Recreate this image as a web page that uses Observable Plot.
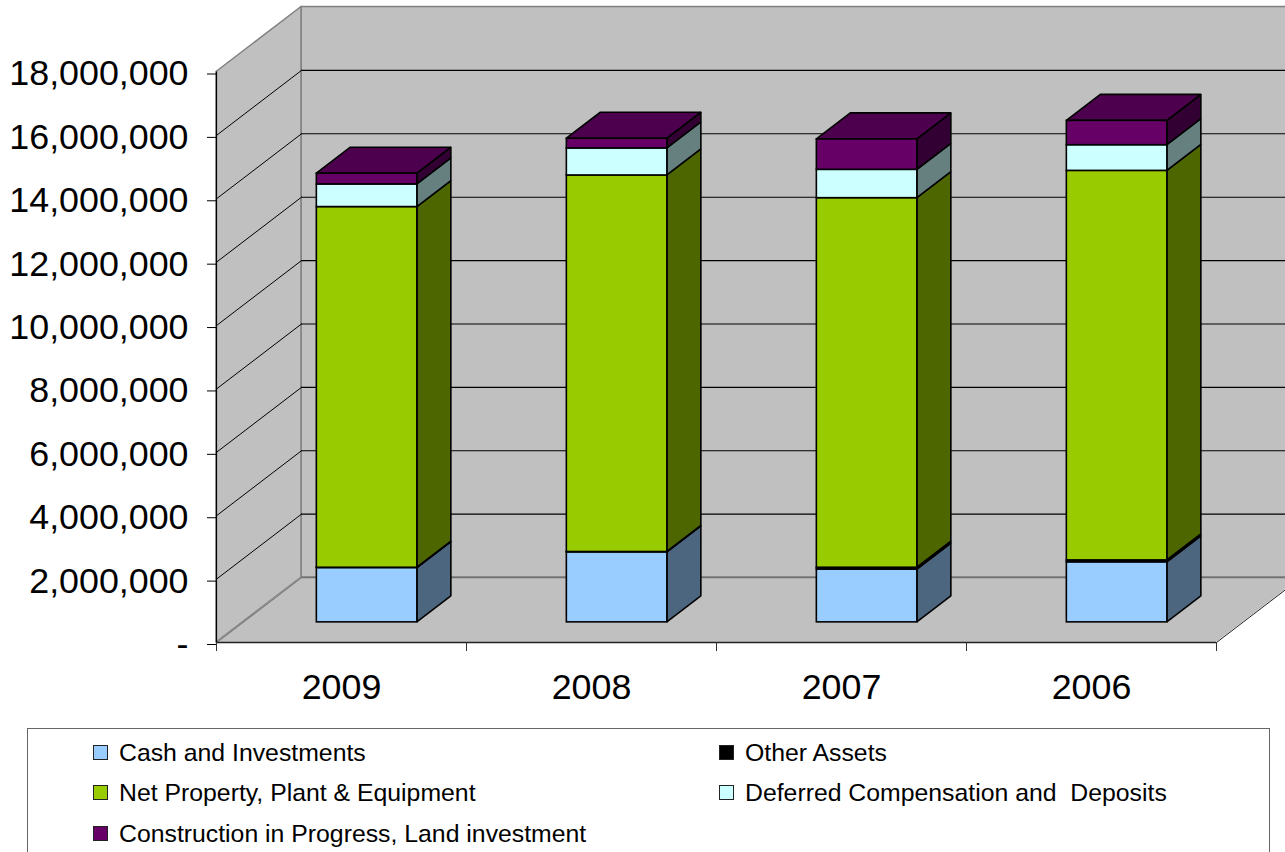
<!DOCTYPE html>
<html>
<head>
<meta charset="utf-8">
<script src="https://cdn.jsdelivr.net/npm/d3@7"></script>
<script src="https://cdn.jsdelivr.net/npm/@observablehq/plot@0.6"></script>
<style>
  html, body { margin: 0; padding: 0; background: #fff; width: 1285px; height: 852px; overflow: hidden; }
  svg { display: block; }
  #legend {
    position: absolute; left: 27px; top: 728px; width: 1243px; height: 124px;
    box-sizing: border-box; border: 1px solid #666; border-bottom: none;
    font-family: "Liberation Sans", Arial, sans-serif; color: #000;
    font-size: 24.8px; background: #fff;
  }
  .item { position: absolute; white-space: pre; line-height: 28px; height: 28px; }
  .swatch { position: absolute; left: -26px; top: 6px; width: 13px; height: 13px; border: 1.5px solid #222; }
</style>
</head>
<body>
<div id="chart"></div>
<div id="legend"></div>
<script>
const years = ["2009", "2008", "2007", "2006"];
const cash = [1715000, 2210000, 1664000, 1895000];
const otherAssets = [8000, 10000, 60000, 60000];
const netProperty = [11380000, 11880000, 11660000, 12290000];
const deferred = [714000, 853000, 894000, 810000];
const construction = [338000, 306000, 960000, 767000];
const seriesNames = ["Cash and Investments", "Other Assets", "Net Property, Plant & Equipment", "Deferred Compensation and  Deposits", "Construction in Progress, Land investment"];
const seriesValues = [cash, otherAssets, netProperty, deferred, construction];
const frontColors = ["#99CCFF", "#000000", "#99CC00", "#CCFFFF", "#660066"];
const sideColors = ["#4D6680", "#000000", "#4D6600", "#668080", "#330033"];
const topColor = "#4D004D";
const axisTicks = d3.range(0, 18000001, 2000000);
const xTicks = [0, 1, 2, 3, 4];

// Oblique projection of the depth axis into the data space of the two scales
const depthX = 0.34, depthY = 2050000;
const zFront = 0.31, zBack = 0.71;
const barStart = 0.296, barWidth = 0.402;
const px = (u, z) => u + z * depthX;
const py = (v, z) => v + z * depthY;

const fronts = [], sides = [], tops = [];
years.forEach((year, i) => {
  let base = 0;
  const left = i + barStart, right = left + barWidth;
  seriesValues.forEach((vals, s) => {
    const top = base + vals[i];
    fronts.push({x1: px(left, zFront), x2: px(right, zFront), y1: py(base, zFront), y2: py(top, zFront), fill: frontColors[s]});
    for (const z of [zFront, zBack]) {
      sides.push({key: `${year}-${s}`, x: px(right, z), y1: py(base, z), y2: py(top, z), fill: sideColors[s]});
    }
    base = top;
  });
  for (const z of [zFront, zBack]) {
    tops.push({key: year, x1: px(left, z), x2: px(right, z), y: py(base, z)});
  }
});

const maxTick = axisTicks[axisTicks.length - 1];
const leftWall = [0, 1].map(z => ({x: px(0, z), y1: py(0, z), y2: py(maxTick, z)}));
const floor = [0, 1].map(z => ({y: py(0, z), x1: px(0, z), x2: px(4, z)}));
const wallLines = axisTicks.flatMap(t => [0, 1].map(z => ({t, x: px(0, z), y: py(t, z)})));
const rightEdge = [0, 1].map(z => ({x: px(4, z), y: py(0, z)}));

const plot = Plot.plot({
  width: 1285,
  height: 728,
  marginLeft: 216,
  marginRight: 0,
  marginTop: 71.5,
  marginBottom: 86,
  x: {type: "linear", domain: [0, (1285 - 216) / 250]},
  y: {type: "linear", domain: [0, maxTick]},
  color: {type: "identity"},
  marks: [
    // walls and floor
    Plot.rect([0], {x1: px(0, 1), x2: px(4, 1), y1: py(0, 1), y2: py(maxTick, 1), fill: "#C0C0C0", stroke: "#808080", strokeWidth: 1.5}),
    Plot.area(leftWall, {x1: "x", x2: "x", y1: "y1", y2: "y2", fill: "#C0C0C0", stroke: "#808080", strokeWidth: 1.5}),
    Plot.area(floor, {x1: "x1", x2: "x2", y1: "y", y2: "y", fill: "#C0C0C0"}),
    // gridlines on back wall and left wall
    Plot.ruleY(axisTicks.slice(1, -1), {y: d => py(d, 1), x1: px(0, 1), x2: px(4, 1), stroke: "#000", strokeWidth: 1.1}),
    Plot.line(wallLines.filter(d => d.t > 0 && d.t < maxTick), {x: "x", y: "y", z: "t", stroke: "#000", strokeWidth: 1}),
    Plot.line(wallLines.filter(d => d.t === 0), {x: "x", y: "y", stroke: "#808080", strokeWidth: 1.5}),
    Plot.ruleY([0], {y: py(0, 1), x1: px(0, 1), x2: px(4, 1), stroke: "#707070", strokeWidth: 1.5}),
    Plot.line(rightEdge, {x: "x", y: "y", stroke: "#222", strokeWidth: 1}),
    // bars
    Plot.area(sides, {x1: "x", x2: "x", y1: "y1", y2: "y2", z: "key", fill: "fill", stroke: "#000", strokeWidth: 1.6, strokeLinejoin: "miter"}),
    Plot.area(tops, {x1: "x1", x2: "x2", y1: "y", y2: "y", z: "key", fill: topColor, stroke: "#000", strokeWidth: 1.6}),
    Plot.rect(fronts, {x1: "x1", x2: "x2", y1: "y1", y2: "y2", fill: "fill", stroke: "#000", strokeWidth: 1.6}),
    // axes
    Plot.ruleX([0], {y1: 0, y2: maxTick, stroke: "#000", strokeWidth: 1.2}),
    Plot.ruleY([0], {x1: 0, x2: 4, stroke: "#222", strokeWidth: 1.5}),
    Plot.axisY({
      ticks: axisTicks, tickSize: 9, tickPadding: 19, label: null, stroke: "#000", fill: "#000",
      tickFormat: d => d === 0 ? "-" : d3.format(",")(d),
      fontSize: 35.8, fontFamily: "Liberation Sans, Arial, sans-serif", dy: 2
    }),
    Plot.axisX({ticks: xTicks, tickSize: 9, label: null, tickFormat: () => "", stroke: "#333"}),
    Plot.axisX({
      ticks: years.map((_, i) => i + 0.5), tickSize: 0, tickPadding: 31, label: null,
      tickFormat: d => years[Math.floor(d)],
      fontSize: 35.8, fontFamily: "Liberation Sans, Arial, sans-serif", fill: "#000"
    })
  ]
});
document.getElementById("chart").appendChild(plot);

const legend = document.getElementById("legend");
const cols = [91, 717], rows = [10, 50, 91];
seriesNames.forEach((name, i) => {
  const el = document.createElement("div");
  el.className = "item";
  el.style.left = cols[i % 2] + "px";
  el.style.top = rows[Math.floor(i / 2)] + "px";
  el.textContent = name;
  const sw = document.createElement("span");
  sw.className = "swatch";
  sw.style.background = frontColors[i];
  el.appendChild(sw);
  legend.appendChild(el);
});
</script>
</body>
</html>
